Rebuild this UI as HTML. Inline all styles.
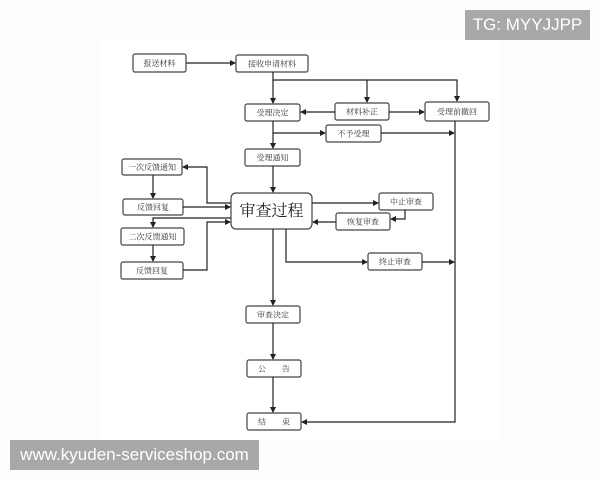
<!DOCTYPE html>
<html><head><meta charset="utf-8"><style>
html,body{margin:0;padding:0;background:#fff;}
body{width:600px;height:480px;position:relative;overflow:hidden;}
svg{position:absolute;left:0;top:0;}
.wm{position:absolute;background:#a8a8a8;color:#fff;font-family:"Liberation Sans",sans-serif;}
</style></head><body>
<svg width="600" height="480" viewBox="0 0 600 480" xmlns="http://www.w3.org/2000/svg">
<defs><marker id="a" markerWidth="6" markerHeight="6" refX="5" refY="3" orient="auto" markerUnits="userSpaceOnUse"><path d="M0,0 L6,3 L0,6z" fill="#222"/></marker></defs>
<rect x="0" y="0" width="600" height="480" fill="#fdfdfd"/>
<rect x="100" y="40" width="400" height="400" fill="#fff"/>
<g fill="#fff" stroke="#444" stroke-width="1.2">
<rect x="133" y="54" width="53" height="18" rx="2"/>
<rect x="236" y="55" width="72" height="17" rx="2"/>
<rect x="245" y="104" width="55" height="17" rx="2"/>
<rect x="335" y="103" width="54" height="17" rx="2"/>
<rect x="425" y="102" width="64" height="19" rx="2"/>
<rect x="326" y="125" width="55" height="17" rx="2"/>
<rect x="245" y="149" width="55" height="17" rx="2"/>
<rect x="122" y="159" width="60" height="16" rx="2"/>
<rect x="123" y="199" width="60" height="16" rx="2"/>
<rect x="231" y="193" width="81" height="36" rx="5"/>
<rect x="379" y="193" width="54" height="17" rx="2"/>
<rect x="336" y="213" width="54" height="17" rx="2"/>
<rect x="121" y="228" width="63" height="17" rx="2"/>
<rect x="121" y="262" width="62" height="17" rx="2"/>
<rect x="368" y="253" width="54" height="17" rx="2"/>
<rect x="246" y="306" width="54" height="17" rx="2"/>
<rect x="247" y="360" width="54" height="17" rx="2"/>
<rect x="247" y="413" width="54" height="17" rx="2"/>
</g>
<g fill="none" stroke="#222" stroke-width="1.2" marker-end="url(#a)">
<path d="M186,63 H235"/>
<path d="M273,72 V103"/>
<path d="M273,80 H367 V102"/>
<path d="M367,80 H457 V101"/>
<path d="M335,112 H301"/>
<path d="M389,112 H424"/>
<path d="M273,121 V148"/>
<path d="M273,133 H325"/>
<path d="M381,133 H454"/>
<path d="M273,166 V192"/>
<path d="M231,203 H207 V167 H183"/>
<path d="M153,175 V198"/>
<path d="M183,207 H230"/>
<path d="M231,218 H153 V227"/>
<path d="M153,245 V261"/>
<path d="M183,270 H207 V222 H230"/>
<path d="M312,203 H378"/>
<path d="M405,210 V219 H391"/>
<path d="M336,222 H313"/>
<path d="M286,229 V262 H367"/>
<path d="M422,262 H454"/>
<path d="M273,229 V305"/>
<path d="M273,323 V359"/>
<path d="M273,377 V412"/>
<path d="M455,121 V422 H302"/>
</g>
<g font-family="'Liberation Serif','Noto Serif CJK SC',serif" font-size="8" fill="#333" text-anchor="middle">
<text x="159.5" y="66">报送材料</text>
<text x="272" y="66.5">接收申请材料</text>
<text x="272.5" y="115.5">受理决定</text>
<text x="362" y="114.5">材料补正</text>
<text x="457" y="114.5">受理前撤回</text>
<text x="353.5" y="136.5">不予受理</text>
<text x="272.5" y="160.5">受理通知</text>
<text x="152" y="170">一次反馈通知</text>
<text x="153" y="210">反馈回复</text>
<text x="406" y="204.5">中止审查</text>
<text x="363" y="224.5">恢复审查</text>
<text x="152.5" y="239.5">二次反馈通知</text>
<text x="152" y="273.5">反馈回复</text>
<text x="395" y="264.5">终止审查</text>
<text x="273" y="317.5">审查决定</text>
<text x="274" y="371.5">公　　告</text>
<text x="274" y="424.5">结　　束</text>
<text x="271.5" y="216" font-size="16" fill="#222">审查过程</text>
</g>
</svg>
<div class="wm" style="left:465px;top:10px;width:125px;height:30px;line-height:30px;font-size:17px;text-align:center;">TG: MYYJJPP</div>
<div class="wm" style="left:10px;top:440px;width:249px;height:30px;line-height:30px;font-size:17px;text-align:center;">www.kyuden-serviceshop.com</div>
</body></html>
